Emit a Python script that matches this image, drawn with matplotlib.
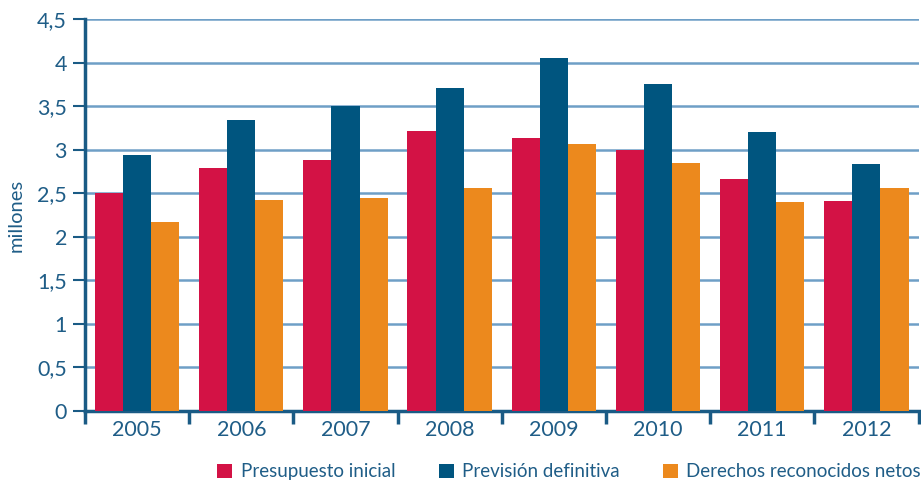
import matplotlib.pyplot as plt
import numpy as np
from matplotlib.ticker import FixedLocator, FuncFormatter

anios = ['2005', '2006', '2007', '2008', '2009', '2010', '2011', '2012']
presupuesto_inicial = [2.50, 2.79, 2.88, 3.22, 3.14, 3.00, 2.67, 2.41]
prevision_definitiva = [2.94, 3.34, 3.50, 3.71, 4.06, 3.76, 3.21, 2.84]
derechos_reconocidos = [2.17, 2.42, 2.45, 2.56, 3.07, 2.85, 2.40, 2.56]

nombres = ['Presupuesto inicial', 'Previsión definitiva', 'Derechos reconocidos netos']
colores = ['#D31245', '#00557F', '#EC891D']
color_texto = '#1F5D87'
color_eje = '#1A5B85'
color_rejilla = '#6E9FC6'

plt.rcParams['font.family'] = ['Lato', 'DejaVu Sans']

fig = plt.figure(figsize=(9.21, 4.87), dpi=100)
ax = fig.add_axes([0.0923, 0.157, 0.905, 0.803])

x = np.arange(len(anios))
ancho = 0.27
series = [presupuesto_inicial, prevision_definitiva, derechos_reconocidos]
for k, (vals, col, nom) in enumerate(zip(series, colores, nombres)):
    ax.bar(x + (k - 1) * ancho, vals, ancho, color=col, label=nom, zorder=3)

ax.set_xlim(-0.5, len(anios) - 0.5)
ax.set_ylim(0, 4.5)
ax.set_yticks(np.arange(0, 4.51, 0.5))
ax.yaxis.set_major_formatter(FuncFormatter(lambda v, p: f'{v:g}'.replace('.', ',')))
ax.set_xticks(x)
ax.set_xticklabels(anios)
ax.xaxis.set_minor_locator(FixedLocator(np.arange(-0.5, len(anios), 1.0)))

ax.grid(axis='y', color=color_rejilla, linewidth=1.8, zorder=1)
ax.set_axisbelow(True)

for lado in ['top', 'right']:
    ax.spines[lado].set_visible(False)
for lado in ['left', 'bottom']:
    ax.spines[lado].set_color(color_eje)
    ax.spines[lado].set_linewidth(2.5)

ax.tick_params(axis='y', colors=color_eje, labelcolor=color_texto, labelsize=15.5,
               length=9, width=1.5, pad=4)
ax.tick_params(axis='x', which='major', length=0, labelcolor=color_texto, labelsize=15.5, pad=7)
ax.tick_params(axis='x', which='minor', length=9, width=2.5, color=color_eje)

ax.set_ylabel('millones', color=color_texto, fontsize=14.5)
ax.yaxis.set_label_coords(-0.073, 0.5)

fig.legend(loc='center', bbox_to_anchor=(0.618, 0.031), ncol=3, frameon=False,
           handlelength=0.8, handleheight=0.8, handletextpad=0.45, columnspacing=2.3,
           fontsize=13.5, labelcolor=color_texto)

fig.savefig('out.png', dpi=100)
